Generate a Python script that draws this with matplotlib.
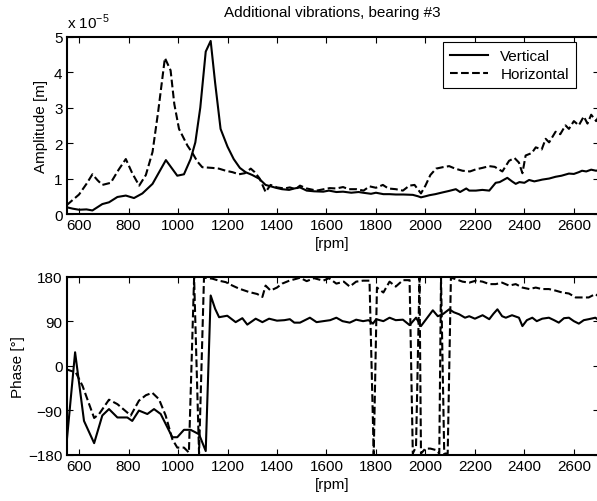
import matplotlib
matplotlib.use("Agg")
import matplotlib.pyplot as plt
import numpy as np

plt.rcParams['font.family'] = ['Liberation Sans', 'DejaVu Sans']
plt.rcParams['font.size'] = 11

# amplitude, vertical (x 1e-5 m)
rpm_av = [550, 575, 600, 630, 654, 694, 721, 755, 789, 822, 856, 897, 951, 997, 1024, 1051, 1070, 1090,
          1112, 1132, 1150, 1172, 1200, 1225, 1250, 1273, 1300, 1327, 1354, 1375, 1395, 1420, 1449, 1470,
          1493, 1520, 1550, 1587, 1610, 1640, 1667, 1700, 1730, 1748, 1780, 1800, 1830, 1855, 1880, 1910,
          1949, 1970, 1982, 2000, 2016, 2040, 2070, 2095, 2123, 2140, 2150, 2165, 2177, 2204, 2230, 2258,
          2284, 2300, 2331, 2350, 2365, 2380, 2400, 2419, 2440, 2460, 2472, 2500, 2526, 2550, 2580, 2600,
          2620, 2633, 2650, 2670, 2690, 2700]
amp_v = [0.19, 0.15, 0.12, 0.13, 0.10, 0.28, 0.33, 0.48, 0.52, 0.45, 0.58, 0.85, 1.52, 1.08, 1.12, 1.55, 2.02, 3.00,
         4.58, 4.88, 3.70, 2.40, 1.90, 1.55, 1.30, 1.18, 1.10, 1.00, 0.82, 0.78, 0.74, 0.70, 0.68, 0.72,
         0.75, 0.66, 0.64, 0.63, 0.66, 0.62, 0.63, 0.60, 0.62, 0.60, 0.57, 0.60, 0.56, 0.56, 0.55, 0.55,
         0.54, 0.50, 0.47, 0.50, 0.53, 0.56, 0.61, 0.65, 0.70, 0.62, 0.66, 0.72, 0.66, 0.66, 0.68, 0.66,
         0.88, 0.90, 1.02, 0.92, 0.85, 0.90, 0.88, 0.96, 0.92, 0.95, 0.97, 1.00, 1.05, 1.08, 1.14, 1.13,
         1.18, 1.22, 1.20, 1.25, 1.22, 1.24]

# amplitude, horizontal
rpm_ah = [550, 575, 600, 630, 654, 675, 694, 728, 760, 789, 815, 843, 870, 897, 920, 947, 970, 985, 1004,
          1038, 1060, 1078, 1098, 1139, 1165, 1193, 1220, 1246, 1270, 1294, 1310, 1330, 1354, 1374, 1400,
          1430, 1452, 1475, 1493, 1520, 1560, 1590, 1613, 1640, 1667, 1690, 1721, 1750, 1774, 1800, 1828,
          1850, 1880, 1909, 1935, 1956, 1982, 2000, 2020, 2043, 2070, 2096, 2120, 2150, 2180, 2204, 2230,
          2258, 2280, 2311, 2338, 2360, 2378, 2392, 2405, 2430, 2446, 2470, 2486, 2500, 2526, 2545, 2566,
          2580, 2600, 2620, 2640, 2655, 2670, 2690, 2700]
amp_h = [0.25, 0.40, 0.55, 0.85, 1.12, 0.95, 0.82, 0.88, 1.25, 1.55, 1.15, 0.80, 1.10, 1.75, 2.90, 4.40, 4.05, 3.10, 2.40,
         1.93, 1.70, 1.48, 1.32, 1.30, 1.28, 1.22, 1.18, 1.12, 1.15, 1.28, 1.18, 1.00, 0.62, 0.82, 0.75,
         0.72, 0.75, 0.70, 0.80, 0.72, 0.66, 0.70, 0.73, 0.72, 0.76, 0.70, 0.70, 0.66, 0.78, 0.74, 0.82,
         0.72, 0.70, 0.66, 0.80, 0.82, 0.58, 0.80, 1.10, 1.28, 1.32, 1.35, 1.28, 1.22, 1.20, 1.26, 1.30,
         1.35, 1.33, 1.20, 1.50, 1.58, 1.45, 1.15, 1.65, 1.72, 1.88, 1.82, 2.12, 2.02, 2.32, 2.25, 2.50,
         2.40, 2.62, 2.50, 2.75, 2.55, 2.80, 2.62, 2.75]

# phase, vertical (deg)
rpm_pv = [546, 584, 620, 661, 694, 721, 755, 795, 815, 842, 876, 903, 930, 977, 997, 1024, 1051, 1085, 1112,
          1132, 1150, 1166, 1199, 1233, 1260, 1280, 1314, 1341, 1368, 1400, 1430, 1452, 1470, 1493, 1533,
          1560, 1587, 1615, 1640, 1665, 1694, 1720, 1748, 1770, 1788, 1801, 1830, 1855, 1880, 1909, 1936,
          1962, 1982, 2003, 2030, 2050, 2070, 2096, 2115, 2136, 2160, 2177, 2200, 2231, 2258, 2275, 2291,
          2310, 2325, 2350, 2378, 2392, 2410, 2432, 2450, 2472, 2499, 2520, 2539, 2560, 2580, 2600, 2620,
          2640, 2660, 2687, 2700]
ph_v = [-176, 27, -112, -157, -101, -88, -105, -105, -112, -91, -98, -88, -98, -145, -145, -130, -130, -139, -173,
        142, 115, 98, 101, 88, 96, 83, 95, 88, 95, 91, 92, 94, 87, 87, 97,
        88, 90, 92, 97, 90, 87, 93, 90, 92, 85, 94, 90, 97, 92, 93, 82,
        97, 80, 94, 112, 100, 104, 114, 108, 104, 97, 100, 95, 102, 94, 105, 114,
        100, 97, 102, 97, 80, 92, 97, 90, 95, 97, 92, 87, 96, 97, 90, 85,
        92, 94, 97, 92]

# phase, horizontal
rpm_ph = [546, 587, 614, 661, 681, 721, 755, 809, 842, 870, 896, 923, 950, 977, 997, 1024, 1044, 1065, 1085,
          1105, 1139, 1165, 1193, 1220, 1246, 1287, 1320, 1341, 1354, 1374, 1400, 1421, 1450, 1480, 1493,
          1520, 1550, 1587, 1610, 1640, 1670, 1694, 1720, 1748, 1774, 1791, 1804, 1830, 1855, 1880, 1909,
          1936, 1949, 1962, 1976, 1982, 2000, 2020, 2043, 2056, 2063, 2076, 2090, 2103, 2123, 2150, 2177,
          2204, 2231, 2258, 2284, 2310, 2338, 2365, 2392, 2420, 2446, 2470, 2499, 2525, 2553, 2580, 2607,
          2630, 2660, 2687, 2700]
ph_h = [-7, -14, -41, -106, -98, -69, -78, -101, -71, -60, -55, -68, -101, -149, -166, -166, -176, 178, -178,
        178, 176, 172, 169, 162, 156, 149, 145, 139, 162, 152, 158, 166, 172, 176, 178,
        171, 177, 172, 177, 166, 170, 160, 170, 172, 172, -179, 158, 148, 170, 160, 173,
        173, -178, -164, 178, -178, -168, -168, -171, -178, 178, -178, -178, 178, 175, 170, 168,
        172, 170, 165, 165, 168, 162, 165, 158, 155, 158, 155, 155, 152, 148, 146, 138,
        138, 138, 145, 140]

xticks = [600, 800, 1000, 1200, 1400, 1600, 1800, 2000, 2200, 2400, 2600]

fig = plt.figure(figsize=(5.97, 5.02), dpi=100)
ax1 = fig.add_axes([0.1117, 0.5717, 0.891, 0.3532])
ax2 = fig.add_axes([0.1117, 0.0926, 0.891, 0.3542])

lw = 1.5
ax1.plot(rpm_av, amp_v, color="black", lw=lw, label="Vertical")
ax1.plot(rpm_ah, amp_h, color="black", lw=lw, ls="--", label="Horizontal")
ax1.set_ylim(0, 5)
ax1.set_yticks([0, 1, 2, 3, 4, 5])
ax1.set_ylabel("Amplitude [m]", labelpad=4)
ax1.set_title("Additional vibrations, bearing #3", fontsize=11, pad=15)
ax1.text(0.0, 1.03, "x 10$^{\\mathregular{-5}}$", transform=ax1.transAxes, ha="left", va="bottom")
leg = ax1.legend(loc="upper right", bbox_to_anchor=(0.957, 0.97), borderaxespad=0,
                 fancybox=False, edgecolor="black", framealpha=1, handlelength=2.5,
                 borderpad=0.45, labelspacing=0.3)
leg.get_frame().set_linewidth(0.8)

ax2.plot(rpm_pv, ph_v, color="black", lw=lw)
ax2.plot(rpm_ph, ph_h, color="black", lw=lw, ls="--")
ax2.set_ylim(-180, 180)
ax2.set_yticks([-180, -90, 0, 90, 180])
ax2.set_ylabel("Phase [°]", labelpad=2)

for ax in (ax1, ax2):
    ax.set_xlim(550, 2700)
    ax.set_xticks(xticks)
    ax.set_xlabel("[rpm]", labelpad=3)
    ax.tick_params(direction="in", top=True, right=True, length=4, width=0.8, labelsize=11, pad=3)
    for s in ax.spines.values():
        s.set_linewidth(1.5)

fig.savefig("out.png", dpi=100)
